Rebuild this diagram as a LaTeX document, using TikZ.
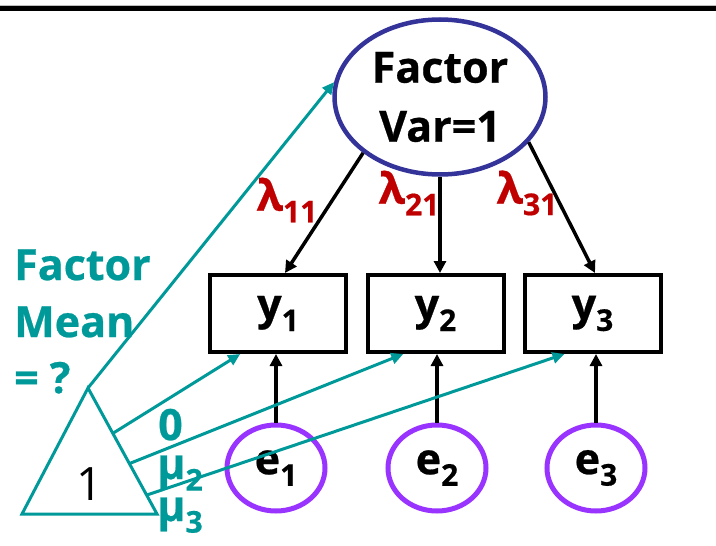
\documentclass[tikz,border=0pt]{standalone}
\usepackage{fontspec}
\setmainfont[BoldFeatures={FakeBold=0.6}]{Open Sans}
\usetikzlibrary{arrows.meta,shapes.geometric,calc}
\definecolor{tealc}{RGB}{0,153,153}
\definecolor{navyc}{RGB}{51,51,153}
\definecolor{purplec}{RGB}{153,51,255}
\definecolor{redc}{RGB}{192,0,0}
\newcommand{\sbs}[1]{\raisebox{-0.27em}{\fontsize{30}{32}\selectfont #1}}
\begin{document}
\begin{tikzpicture}[x=1pt,y=-1pt,
  lbl/.style={font=\bfseries\fontsize{43}{59}\selectfont},
  obs/.style={draw, line width=4pt, minimum width=136pt, minimum height=77pt, inner sep=0pt, lbl},
  err/.style={ellipse, draw=purplec, line width=5pt, minimum width=98pt, minimum height=86pt, inner sep=0pt, lbl},
  fac/.style={ellipse, draw=navyc, line width=4.5pt, minimum width=211pt, minimum height=155pt, inner sep=0pt, align=center, lbl},
  load/.style={-{Triangle[length=12pt,width=12pt]}, line width=3.5pt, black},
  mean/.style={-{Triangle[length=12pt,width=11pt]}, line width=3pt, tealc},
  lam/.style={text=redc, lbl, inner sep=0pt},
  tl/.style={text=tealc, lbl, inner sep=0pt}]
\useasboundingbox (0,0) rectangle (716,546);
\fill[white] (0,0) rectangle (716,546);
\draw[gray!50, line width=1pt] (0,5.5) -- (716,5.5);
\draw[black, line width=5pt] (0,8.5) -- (716,8.5);
% factor
\node[fac] (F) at (440,97) {Factor\\Var=1};
% observed
\node[obs] (y1) at (278,313.5) {y\sbs{1}};
\node[obs] (y2) at (435.5,313.5) {y\sbs{2}};
\node[obs] (y3) at (592.5,313.5) {y\sbs{3}};
% errors
\node[err] (e1) at (276,468) {e\sbs{1}};
\node[err] (e2) at (437,468) {e\sbs{2}};
\node[err] (e3) at (596,468) {e\sbs{3}};
% triangle
\coordinate (tA) at (88,388);
\coordinate (tL) at (22,514);
\coordinate (tR) at (157,514);
\draw[tealc, line width=3pt, line join=miter] (tA) -- (tL) -- (tR) -- cycle;
\node[font=\fontsize{46}{50}\selectfont, inner sep=0pt] (one) at (90,484) {1};
% loadings
\draw[load] (F.-144.5) -- ($(y1.north)+(7,0)$);
\draw[load] (F.south) -- (F.south |- y2.north);
\draw[load] (F.-27.6) -- ($(y3.north)+(2.5,0)$);
% errors to observed
\draw[load] (e1.north) -- (e1.north |- y1.south);
\draw[load] (e2.north) -- (e2.north |- y2.south);
\draw[load] (e3.north) -- (e3.north |- y3.south);
% means
\draw[mean] (tA) -- (F.172);
\draw[mean] ($(tA)!0.36!(tR)$) -- ($(y1.south west)!0.23!(y1.south east)$);
\draw[mean] ($(tA)!0.6!(tR)$) -- ($(y2.south west)!0.27!(y2.south east)$);
\draw[mean] ($(tA)!0.85!(tR)$) -- ($(y3.south west)!0.30!(y3.south east)$);
% labels
\node[lam] (l11) at (287,200) {λ\sbs{11}};
\node[lam] (l21) at (409,193) {λ\sbs{21}};
\node[lam] (l31) at (527,193) {λ\sbs{31}};
\node[tl, anchor=base west] (fm1) at (14,280) {Factor};
\node[tl, anchor=base west] (fm2) at (14,337) {Mean};
\node[tl, anchor=base west] (fm3) at (14,393) {= ?};
\node[tl, anchor=base west] (m0) at (158,440) {0};
\node[tl, anchor=base west] (m2) at (157,479) {μ\sbs{2}};
\node[tl, anchor=base west] (m3) at (157,521) {μ\sbs{3}};
\end{tikzpicture}
\end{document}
